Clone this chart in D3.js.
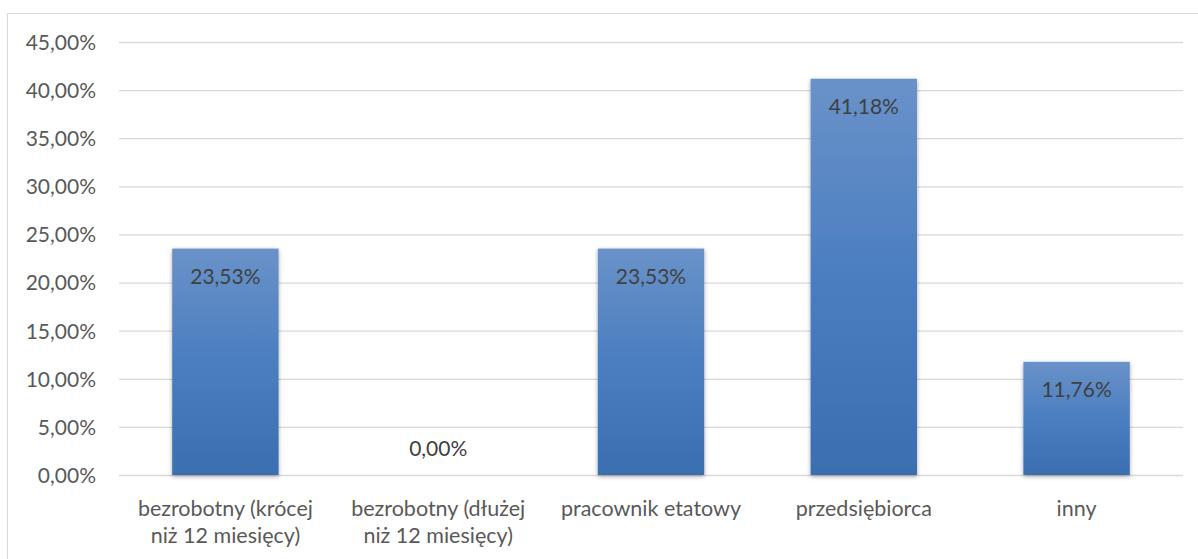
<!DOCTYPE html>
<html>
<head>
<meta charset="utf-8">
<script src="https://cdn.jsdelivr.net/npm/d3@7"></script>
<style>
  body { margin: 0; background: #fff; }
  #graf { width: 1198px; height: 559px; }
  text { font-family: Lato, "Open Sans", sans-serif; }
  .ejes text { fill: #595959; font-size: 21px; }
  .ejes line { stroke: #d9d9d9; stroke-width: 1.3; }
  .ejes path { display: none; }
</style>
</head>
<body>
<div id="graf"></div>
<script>
const categorias = [
  ["bezrobotny (krócej", "niż 12 miesięcy)"],
  ["bezrobotny (dłużej", "niż 12 miesięcy)"],
  ["pracownik etatowy"],
  ["przedsiębiorca"],
  ["inny"]
]
const valores = [23.53, 0.0, 23.53, 41.18, 11.76]
const ticks = [0, 5, 10, 15, 20, 25, 30, 35, 40, 45]

const fmt = (v) => v.toFixed(2).replace(".", ",") + "%"

const graf = d3.select("#graf")
const anchoTotal = 1198
const altoTotal = 559
const margins = { left: 119, top: 42, right: 15, bottom: 84 }
const ancho = anchoTotal - margins.left - margins.right
const alto = altoTotal - margins.top - margins.bottom

const svg = graf.append("svg")
  .attr("width", anchoTotal)
  .attr("height", altoTotal)

const defs = svg.append("defs")
const grad = defs.append("linearGradient")
  .attr("id", "barra")
  .attr("x1", 0).attr("y1", 0).attr("x2", 0).attr("y2", 1)
grad.append("stop").attr("offset", "0%").attr("stop-color", "#6a92c9")
grad.append("stop").attr("offset", "50%").attr("stop-color", "#4a7ec0")
grad.append("stop").attr("offset", "100%").attr("stop-color", "#3a6eb0")

const sombra = defs.append("filter").attr("id", "sombra")
  .attr("x", "-20%").attr("y", "-20%").attr("width", "140%").attr("height", "140%")
sombra.append("feDropShadow")
  .attr("dx", 0).attr("dy", 1.5).attr("stdDeviation", 2.2)
  .attr("flood-color", "#000").attr("flood-opacity", 0.35)

// marco del grafico
svg.append("rect")
  .attr("x", 7.5).attr("y", 13.5)
  .attr("width", 1200).attr("height", 600)
  .attr("fill", "none")
  .attr("stroke", "#d9d9d9")

const g = svg.append("g")
  .attr("transform", `translate(${margins.left}, ${margins.top})`)

const x = d3.scaleBand()
  .domain(d3.range(categorias.length))
  .range([0, ancho])
  .paddingInner(0.5)
  .paddingOuter(0.25)
const y = d3.scaleLinear().domain([0, 45]).range([alto, 0])

const yAxis = d3.axisLeft(y)
  .tickValues(ticks)
  .tickSize(-ancho)
  .tickPadding(23)
  .tickFormat(fmt)

g.append("g").attr("class", "ejes").call(yAxis)
  .selectAll(".tick text").attr("dy", "0.35em")

g.selectAll("rect.barra").data(valores)
  .enter()
  .append("rect")
  .attr("class", "barra")
  .attr("x", (d, i) => x(i))
  .attr("y", (d) => y(d))
  .attr("width", x.bandwidth())
  .attr("height", (d) => alto - y(d))
  .attr("fill", "url(#barra)")
  .attr("filter", "url(#sombra)")
  .style("display", (d) => d > 0 ? null : "none")

g.selectAll("text.etiqueta").data(valores)
  .enter()
  .append("text")
  .attr("class", "etiqueta")
  .attr("x", (d, i) => x(i) + x.bandwidth() / 2)
  .attr("y", (d) => d > 0 ? y(d) + 35 : y(d) - 19)
  .attr("text-anchor", "middle")
  .attr("fill", "#404040")
  .attr("font-size", "21px")
  .text((d) => fmt(d))

const cat = g.selectAll("text.cat").data(categorias)
  .enter()
  .append("text")
  .attr("class", "cat")
  .attr("text-anchor", "middle")
  .attr("fill", "#595959")
  .attr("font-size", "21.5px")
  .attr("x", (d, i) => x(i) + x.bandwidth() / 2)
  .attr("y", alto + 41)

cat.selectAll("tspan").data((d) => d)
  .enter()
  .append("tspan")
  .attr("x", function () { return d3.select(this.parentNode).attr("x") })
  .attr("dy", (d, i) => i === 0 ? 0 : 27)
  .text((d) => d)
</script>
</body>
</html>
